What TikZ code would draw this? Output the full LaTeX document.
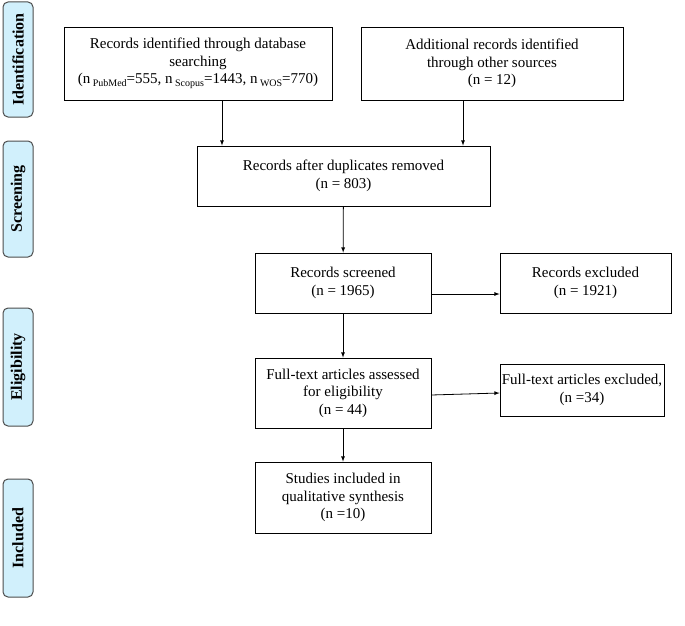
\documentclass[tikz,border=0pt]{standalone}
\usepackage{fontspec}
\setmainfont{Liberation Serif}
\begin{document}
\begin{tikzpicture}[x=1pt,y=-1pt,
 box/.style={draw,line width=0.8pt,align=center,font=\fontsize{15}{17.5}\selectfont,inner sep=0},
 tab/.style={draw=black!70,fill=cyan!18,line width=1pt,rounded corners=5pt},
 tabtxt/.style={rotate=90,font=\bfseries\fontsize{16}{18}\selectfont},
 arr/.style={-latex,line width=0.8pt}]
\useasboundingbox (0,0) rectangle (685,626);
\foreach \n/\a/\b/\t in {t1/2/117/Identification,t2/141/257/Screening,t3/308/426/Eligibility,t4/479/597/Included}{
 \draw[tab] (3,\a) rectangle (33,\b);
 \node[tabtxt] (\n) at (18,{(\a+\b)/2}) {\t};}
\node[box,minimum width=268,minimum height=73] (A) at (198,63.5) {Records identified through database\\searching\\(n\,{\fontsize{10}{10}\selectfont\raisebox{-3pt}{PubMed}}=555, n\,{\fontsize{10}{10}\selectfont\raisebox{-3pt}{Scopus}}=1443, n\,{\fontsize{10}{10}\selectfont\raisebox{-3pt}{WOS}}=770)};
\node[box,minimum width=262,minimum height=73] (B) at (492,63.5) {Additional records identified\\through other sources\\(n = 12)};
\node[box,minimum width=293,minimum height=60] (C) at (343.5,176) {Records after duplicates removed\\(n = 803)};
\node[box,minimum width=176,minimum height=60] (D) at (343,283) {Records screened\\(n = 1965)};
\node[box,minimum width=171,minimum height=60] (E) at (585.5,283) {Records excluded\\(n = 1921)};
\node[box,minimum width=176,minimum height=70] (F) at (343,393) {Full-text articles assessed\\for eligibility\\(n = 44)};
\node[box,minimum width=164,minimum height=52] (G) at (582,390) {Full-text articles excluded,\\(n =34)};
\node[box,minimum width=176,minimum height=71] (H) at (343,497.5) {Studies included in\\qualitative synthesis\\(n =10)};
\draw[arr] (A.south-|222,0) -- (C.north-|222,0);
\draw[arr] (B.south-|463,0) -- (C.north-|463,0);
\draw[arr] (C) -- (D);
\draw[arr] (D.east|-0,294) -- (E.west|-0,294);
\draw[arr] (D) -- (F);
\draw[arr] (F.east|-0,395) -- (G.west|-0,393);
\draw[arr] (F) -- (H);
\end{tikzpicture}
\end{document}
